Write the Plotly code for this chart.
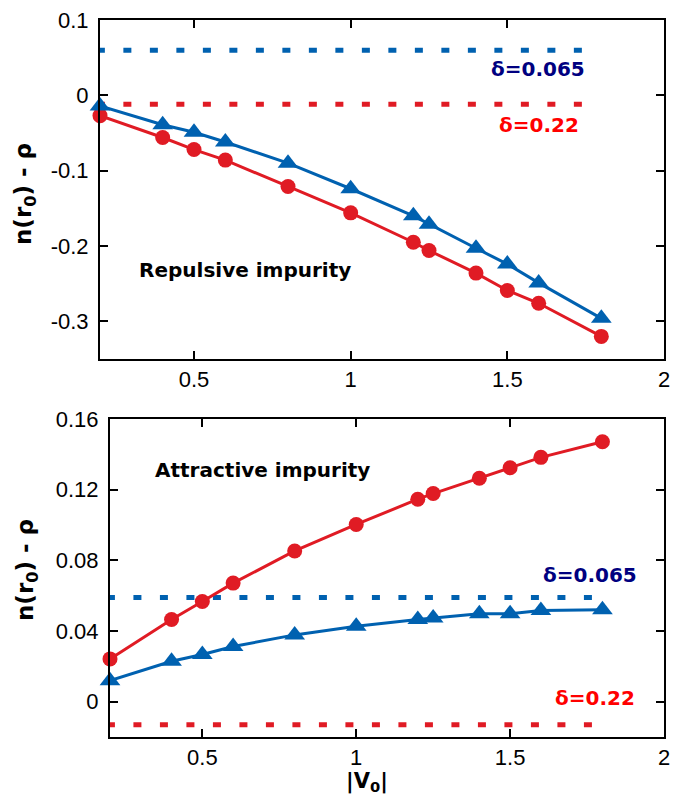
import plotly.graph_objects as go

V = [0.2, 0.4, 0.5, 0.6, 0.8, 1.0, 1.2, 1.25, 1.4, 1.5, 1.6, 1.8]

rep_d022 = [-0.027, -0.056, -0.072, -0.086, -0.121, -0.156, -0.195, -0.206, -0.236, -0.259, -0.276, -0.320]
rep_d0065 = [-0.014, -0.039, -0.049, -0.062, -0.090, -0.124, -0.160, -0.171, -0.203, -0.224, -0.249, -0.296]

att_d022 = [0.0242, 0.0465, 0.0567, 0.0671, 0.0853, 0.1003, 0.1146, 0.1178, 0.1265, 0.1324, 0.1383, 0.1471]
att_d0065 = [0.0119, 0.0229, 0.0267, 0.0312, 0.0378, 0.0427, 0.0465, 0.0473, 0.0498, 0.0498, 0.0516, 0.0520]

bulk_x = [0.19, 1.78]
rep_bulk_d0065 = 0.060
rep_bulk_d022 = -0.012
att_bulk_d0065 = 0.059
att_bulk_d022 = -0.013

RED = "#e01b24"
BLUE = "#0061b0"
NAVY = "#000080"
TXTRED = "#ff0000"

fig = go.Figure()

def add_panel(xa, ya, red, blue, b_blue, b_red):
    fig.add_trace(go.Scatter(x=bulk_x, y=[b_blue, b_blue], mode="lines", xaxis=xa, yaxis=ya,
                             line=dict(color=BLUE, width=5, dash="8px,18.5px"), cliponaxis=False, showlegend=False))
    fig.add_trace(go.Scatter(x=bulk_x, y=[b_red, b_red], mode="lines", xaxis=xa, yaxis=ya,
                             line=dict(color=RED, width=5, dash="8px,18.5px"), cliponaxis=False, showlegend=False))
    fig.add_trace(go.Scatter(x=V, y=red, mode="lines+markers", xaxis=xa, yaxis=ya,
                             line=dict(color=RED, width=3), marker=dict(symbol="circle", size=15, color=RED),
                             cliponaxis=False, showlegend=False))
    fig.add_trace(go.Scatter(x=V, y=blue, mode="lines+markers", xaxis=xa, yaxis=ya,
                             line=dict(color=BLUE, width=3), marker=dict(symbol="triangle-up", size=18, color=BLUE),
                             cliponaxis=False, showlegend=False))

add_panel("x", "y", rep_d022, rep_d0065, rep_bulk_d0065, rep_bulk_d022)
add_panel("x2", "y2", att_d022, att_d0065, att_bulk_d0065, att_bulk_d022)

axfont = dict(family="Liberation Sans, Arial, sans-serif", size=22, color="black")
common = dict(showline=True, linecolor="black", linewidth=2, mirror="ticks", ticks="inside",
              ticklen=8, tickwidth=1.5, tickcolor="black", showgrid=False, zeroline=False,
              tickfont=axfont, automargin=False)

fig.update_layout(
    width=688, height=794, margin=dict(l=0, r=0, t=0, b=0),
    paper_bgcolor="white", plot_bgcolor="white",
    xaxis=dict(domain=[100/688, 664/688], range=[0.2, 2], tickvals=[0.5, 1, 1.5, 2],
               ticktext=["0.5", "1", "1.5", "2"], anchor="y", **common),
    yaxis=dict(domain=[1-359/794, 1-20/794], range=[-0.35, 0.1], tickvals=[-0.3, -0.2, -0.1, 0, 0.1],
               ticktext=["-0.3", "-0.2", "-0.1", "0", "0.1"], anchor="x", ticklabelstandoff=5, **common),
    xaxis2=dict(domain=[110/688, 664/688], range=[0.2, 2], tickvals=[0.5, 1, 1.5, 2],
                ticktext=["0.5", "1", "1.5", "2"], anchor="y2", **common),
    yaxis2=dict(domain=[1-737/794, 1-419/794], range=[-0.02, 0.16], tickvals=[0, 0.04, 0.08, 0.12, 0.16],
                ticktext=["0", "0.04", "0.08", "0.12", "0.16"], anchor="x2", ticklabelstandoff=5, **common),
)

bf = "DejaVu Sans, Verdana, sans-serif"
ann = [
    dict(x=1.754, y=0.035, xref="x", yref="y", text="<b>δ=0.065</b>", xanchor="right", yanchor="middle",
         font=dict(family=bf, size=20, color=NAVY), showarrow=False),
    dict(x=1.735, y=-0.040, xref="x", yref="y", text="<b>δ=0.22</b>", xanchor="right", yanchor="middle",
         font=dict(family=bf, size=20, color=TXTRED), showarrow=False),
    dict(x=0.318, y=-0.232, xref="x", yref="y", text="<b>Repulsive impurity</b>", xanchor="left", yanchor="middle",
         font=dict(family=bf, size=20, color="black"), showarrow=False),
    dict(x=1.919, y=0.0715, xref="x2", yref="y2", text="<b>δ=0.065</b>", xanchor="right", yanchor="middle",
         font=dict(family=bf, size=20, color=NAVY), showarrow=False),
    dict(x=1.912, y=0.0023, xref="x2", yref="y2", text="<b>δ=0.22</b>", xanchor="right", yanchor="middle",
         font=dict(family=bf, size=20, color=TXTRED), showarrow=False),
    dict(x=0.34, y=0.131, xref="x2", yref="y2", text="<b>Attractive impurity</b>", xanchor="left", yanchor="middle",
         font=dict(family=bf, size=20, color="black"), showarrow=False),
    dict(x=25/688, y=1-194/794, xref="paper", yref="paper", text="<b>n(r<sub>0</sub>) - ρ</b>", textangle=-90,
         xanchor="center", yanchor="middle", font=dict(family=bf, size=23, color="black"), showarrow=False),
    dict(x=27/688, y=1-570/794, xref="paper", yref="paper", text="<b>n(r<sub>0</sub>) - ρ</b>", textangle=-90,
         xanchor="center", yanchor="middle", font=dict(family=bf, size=23, color="black"), showarrow=False),
    dict(x=367/688, y=1-782/794, xref="paper", yref="paper", text="<b>|V<sub>0</sub>|</b>",
         xanchor="center", yanchor="middle", font=dict(family=bf, size=21, color="black"), showarrow=False),
]
fig.update_layout(annotations=ann)

fig.write_html("out.html")
